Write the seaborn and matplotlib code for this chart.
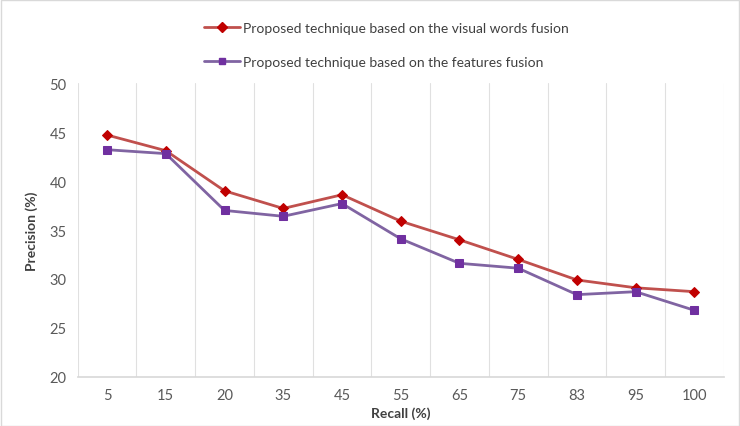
import matplotlib
matplotlib.use("Agg")
import matplotlib.pyplot as plt
import seaborn as sns
import pandas as pd
import numpy as np
from matplotlib.ticker import FixedLocator
from matplotlib.lines import Line2D

recall = ["5", "15", "20", "35", "45", "55", "65", "75", "83", "95", "100"]
visual_words = [44.7, 43.1, 39.0, 37.2, 38.6, 35.9, 34.0, 32.0, 29.9, 29.1, 28.7]
features = [43.2, 42.8, 37.0, 36.4, 37.7, 34.1, 31.6, 31.1, 28.4, 28.7, 26.8]
name_vw = "Proposed technique based on the visual words fusion"
name_ft = "Proposed technique based on the features fusion"

sns.set_theme(style="white")
plt.rcParams['font.family'] = ['Lato', 'DejaVu Sans']

df = pd.DataFrame({"Recall": recall * 2,
                   "Precision": visual_words + features,
                   "Series": [name_vw] * len(recall) + [name_ft] * len(recall)})
df["x"] = list(range(len(recall))) * 2

fig = plt.figure(figsize=(7.4, 4.27), dpi=100)
ax = fig.add_axes([0.105, 0.115, 0.873, 0.688])

palette = {name_vw: "#C0504D", name_ft: "#8064A2"}
sns.lineplot(data=df, x="x", y="Precision", hue="Series", palette=palette,
             style="Series", markers={name_vw: "D", name_ft: "s"}, dashes=False,
             linewidth=2, markersize=5.5, ax=ax, legend=False)
mcol = {name_vw: "#C00000", name_ft: "#7030A0"}
for line, nm in zip(ax.lines, [name_vw, name_ft]):
    line.set_markerfacecolor(mcol[nm])
    line.set_markeredgecolor(mcol[nm])

ax.set_xlim(-0.5, len(recall) - 0.5)
ax.set_ylim(20, 50)
ax.set_yticks(range(20, 51, 5))
ax.set_xticks(range(len(recall)))
ax.set_xticklabels(recall)
ax.xaxis.set_minor_locator(FixedLocator(np.arange(-0.5, len(recall), 1.0)))
ax.grid(which="minor", axis="x", color="#E0E0E0", linewidth=0.8)
ax.grid(which="major", axis="both", visible=False)
for s in ["top", "right", "left"]:
    ax.spines[s].set_visible(False)
ax.spines["bottom"].set_color("#D9D9D9")
ax.tick_params(axis="both", which="both", length=0, colors="#595959", labelsize=10.5)
ax.tick_params(axis="x", pad=8)
ax.tick_params(axis="y", pad=8)
ax.set_xlabel("Recall (%)", fontsize=10, fontweight="bold", color="#404040", labelpad=3)
ax.set_ylabel("Precision (%)", fontsize=10, fontweight="bold", color="#404040", labelpad=8)

handles = [Line2D([], [], color="#C0504D", lw=2, marker="D", markersize=5,
                  markerfacecolor="#C00000", markeredgecolor="#C00000"),
           Line2D([], [], color="#8064A2", lw=2, marker="s", markersize=5,
                  markerfacecolor="#7030A0", markeredgecolor="#7030A0")]
fig.legend(handles, [name_vw, name_ft], loc="upper center", bbox_to_anchor=(0.522, 0.975),
           ncol=1, frameon=False, fontsize=10, labelcolor="#404040",
           handlelength=2.6, labelspacing=1.55, handletextpad=0.2)

fig.patches.append(plt.Rectangle((0.001, 0.001), 0.997, 0.997, transform=fig.transFigure,
                                 fill=False, edgecolor="#D9D9D9", linewidth=1))
fig.savefig("out.png", dpi=100)
